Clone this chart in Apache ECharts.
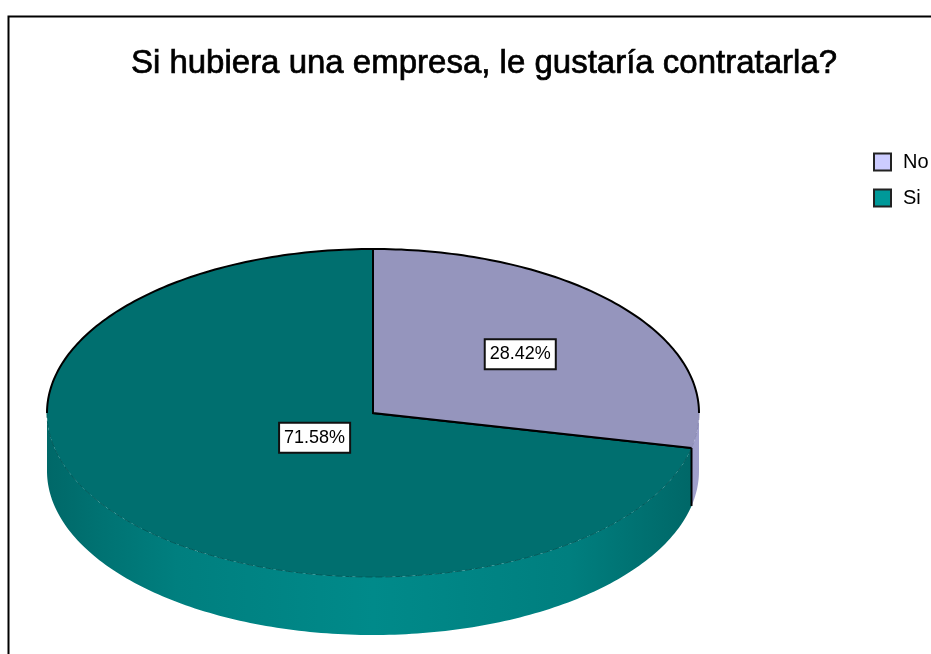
<!DOCTYPE html>
<html><head><meta charset="utf-8">
<style>html,body{margin:0;padding:0;background:#fff}#c{width:931px;height:654px}</style>
<script src="https://cdn.jsdelivr.net/npm/echarts@6/dist/echarts.min.js"></script>
</head><body><div id="c"></div>
<script>
const titleText = 'Si hubiera una empresa, le gustaría contratarla?';
const categories = ['No', 'Si'];
const percents = [28.42, 71.58];
const labelRadii = [0.58, 0.23];
const topColors = ['#9595BD', '#006F6F'];
const rimColors = ['#8A8AB4', '#005A5A'];
const wallColors = [
  [[0, '#8E8EB8'], [1, '#A0A0CC']],
  [[0, '#006868'], [0.08, '#007272'], [0.2, '#007F7F'], [0.5, '#008A8A'], [0.8, '#007F7F'], [0.95, '#006C6C'], [1, '#006666']]
];
const legendColors = ['#CCCCFF', '#009999'];

const CX = 373, CY = 413, RX = 326, RY = 164, DEPTH = 58;
const total = percents.reduce((a, b) => a + b, 0);
const pt = (deg, dy = 0, k = 1) => {
  const a = deg * Math.PI / 180;
  return [CX + RX * k * Math.sin(a), CY - RY * k * Math.cos(a) + dy];
};
const arc = (from, to, dy = 0) => {
  const out = [];
  const n = Math.max(2, Math.ceil(Math.abs(to - from)));
  for (let i = 0; i <= n; i++) out.push(pt(from + (to - from) * i / n, dy));
  return out;
};
function sliceAngles(i) {
  let start = 0;
  for (let j = 0; j < i; j++) start += percents[j] / total * 360;
  return [start, start + percents[i] / total * 360];
}
function renderSlice(i) {
  return function (params, api) {
    const [a0, a1] = sliceAngles(i);
    const children = [];
    const w0 = Math.max(a0, 90), w1 = Math.min(a1, 270);
    if (w1 > w0) {
      const top = arc(w0, w1), bottom = arc(w1, w0, DEPTH);
      children.push({
        type: 'polygon', shape: { points: top.concat(bottom) },
        style: { fill: { type: 'linear', x: CX - RX, y: 0, x2: CX + RX, y2: 0, global: true,
          colorStops: wallColors[i].map(s => ({ offset: s[0], color: s[1] })) } }
      });
    }
    children.push({
      type: 'polygon', shape: { points: [[CX, CY]].concat(arc(a0, a1)) },
      style: { fill: topColors[i] }
    });
    if (w1 > w0) {
      children.push({
        type: 'polyline', shape: { points: arc(w0, w1) },
        style: { fill: null, stroke: rimColors[i], lineWidth: 1, lineDash: [7, 3] }
      });
    }
    const backs = [[a0, Math.min(a1, 90)], [Math.max(a0, 270), a1]];
    backs.forEach(b => {
      if (b[1] > b[0]) children.push({
        type: 'polyline', shape: { points: arc(b[0], b[1]) },
        style: { fill: null, stroke: '#000', lineWidth: 2 }
      });
    });
    children.push({
      type: 'polyline', shape: { points: [pt(a0), [CX, CY], pt(a1)] },
      style: { fill: null, stroke: '#000', lineWidth: 2 }
    });
    if (a1 > 90 && a1 < 270) {
      children.push({
        type: 'line', shape: { x1: pt(a1)[0], y1: pt(a1)[1], x2: pt(a1)[0], y2: pt(a1, DEPTH)[1] },
        style: { stroke: '#000', lineWidth: 2 }
      });
    }
    const lp = pt((a0 + a1) / 2, 0, labelRadii[i]);
    children.push({
      type: 'text', z2: 50,
      style: {
        text: api.value(0).toFixed(2) + '%', x: lp[0], y: lp[1] + 1, align: 'center', verticalAlign: 'middle',
        font: '18px "Liberation Sans", Arial, sans-serif', fill: '#000',
        backgroundColor: '#fff', borderColor: '#111', borderWidth: 2, padding: [6, 4, 4, 4]
      }
    });
    return { type: 'group', children };
  };
}
const chart = echarts.init(document.getElementById('c'), null, { renderer: 'canvas' });
const order = [1, 0];
chart.setOption({
  animation: false,
  backgroundColor: '#fff',
  title: {
    text: titleText, left: 479, top: 42, textAlign: 'center',
    textStyle: { fontFamily: '"Liberation Sans", Arial, sans-serif', fontSize: 33, fontWeight: 'normal', color: '#000',
      textBorderColor: '#000', textBorderWidth: 0.7 }
  },
  legend: {
    orient: 'vertical', left: 873, top: 152, padding: 0, itemWidth: 17, itemHeight: 17, itemGap: 16,
    textStyle: { fontFamily: '"Liberation Sans", Arial, sans-serif', fontSize: 20, color: '#000', padding: [0, 0, 0, 7] },
    data: categories.map((c, i) => ({
      name: c, icon: 'rect',
      itemStyle: { color: legendColors[i], borderColor: '#222', borderWidth: 2 }
    }))
  },
  graphic: [{
    type: 'rect', left: 6, top: 14, silent: true,
    shape: { width: 1000, height: 1000 },
    style: { fill: null, stroke: '#000', lineWidth: 2 }
  }],
  series: order.map(i => ({
    type: 'custom', name: categories[i], coordinateSystem: 'none',
    itemStyle: { color: legendColors[i] },
    data: [[percents[i]]],
    renderItem: renderSlice(i)
  }))
});
</script></body></html>
